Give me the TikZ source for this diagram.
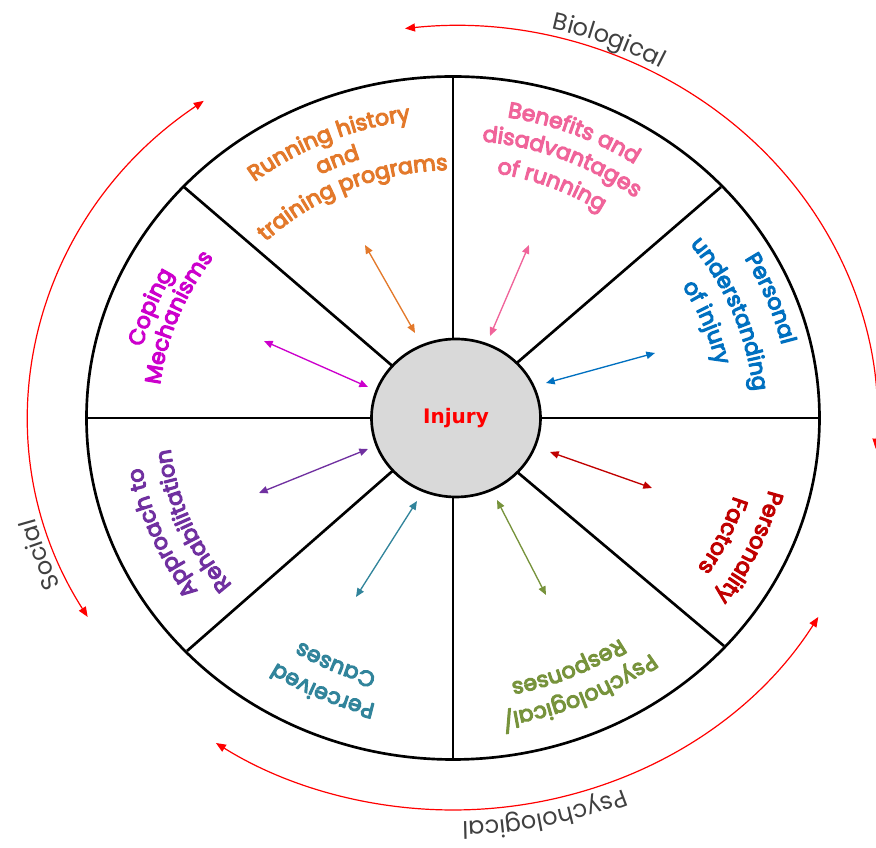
\documentclass[tikz,border=0pt]{standalone}
\usepackage{fontspec}
\setmainfont{Poppins}
\newfontfamily\dejavu{DejaVu Sans}
\newfontfamily\lblface{Poppins}[FakeBold=5]
\usetikzlibrary{arrows.meta,decorations.text,shapes.geometric}
\definecolor{cOrange}{HTML}{E3792B}
\definecolor{cPink}{HTML}{F0649A}
\definecolor{cBlue}{HTML}{0070C0}
\definecolor{cDarkRed}{HTML}{C00000}
\definecolor{cGreen}{HTML}{77933C}
\definecolor{cTeal}{HTML}{31849B}
\definecolor{cPurple}{HTML}{7030A0}
\definecolor{cMagenta}{HTML}{CC00CC}
\definecolor{cGray}{HTML}{404040}
\definecolor{cHub}{HTML}{D9D9D9}
\newcommand\lblfont{\lblface\fontsize{16.5}{19}\selectfont}
\newcommand\outfont{\fontsize{18}{21}\selectfont}
% #1 mid angle, #2 baseline radius, #3 colour, #4 font, #5 text
\newcommand\curvetext[5]{%
  \path[decorate,decoration={text along path,text align=center,text color=#3,text={|#4|#5}}]
    ({1.073*#2*cos(#1+55)},{#2*sin(#1+55)}) arc[start angle={#1+55},end angle={#1-55},x radius={1.073*#2},y radius={#2}];}
\tikzset{
  divider/.style={line width=2pt,black},
  ring/.style={line width=2pt,black},
  hub/.style={ellipse,draw=black,line width=2pt,fill=cHub,minimum width=126.75pt,minimum height=118.5pt,inner sep=0pt,
    text=red,font=\dejavu\bfseries\fontsize{15}{18}\selectfont},
  dbl/.style={line width=1pt,{Triangle[length=6.5pt,width=5.5pt]}-{Triangle[length=6.5pt,width=5.5pt]}},
  redarc/.style={red,line width=0.9pt,{Triangle[length=7.5pt,width=6pt]}-{Triangle[length=7.5pt,width=6pt]}}
}
\begin{document}
\begin{tikzpicture}[x=0.75pt,y=0.75pt,line join=round]
\useasboundingbox (-453,-430) rectangle (423,418);
% divider end points
\coordinate (dE) at (366,0);
\coordinate (dW) at (-366,0);
\coordinate (dN) at (0,341);
\coordinate (dS) at (0,-341);
\coordinate (dNE) at (268,231);
\coordinate (dNW) at (-269,231);
\coordinate (dSE) at (271,-228);
\coordinate (dSW) at (-266,-233);
\draw[divider] (dW) -- (dE);
\draw[divider] (dN) -- (dS);
\draw[divider] (dNE) -- (0,0) -- (dSW);
\draw[divider] (dNW) -- (0,0) -- (dSE);
\draw[ring] (0,0) ellipse[x radius=366.5,y radius=341.5];
\node[hub] (hub) at (3,0) {Injury};
% double arrows
\coordinate (oA) at (-88,173); \coordinate (oB) at (-38,85);
\coordinate (pA) at (76,173);  \coordinate (pB) at (37,82);
\coordinate (bA) at (202,65);  \coordinate (bB) at (93,35);
\coordinate (rA) at (97,-34);  \coordinate (rB) at (199,-70);
\coordinate (gA) at (44,-82);  \coordinate (gB) at (93,-177);
\coordinate (tA) at (-36,-83); \coordinate (tB) at (-97,-179);
\coordinate (uA) at (-85,-31); \coordinate (uB) at (-194,-75);
\coordinate (mA) at (-189,77); \coordinate (mB) at (-85,31);
\draw[dbl,cOrange] (oA) -- (oB);
\draw[dbl,cPink] (pA) -- (pB);
\draw[dbl,cBlue] (bA) -- (bB);
\draw[dbl,cDarkRed] (rA) -- (rB);
\draw[dbl,cGreen] (gA) -- (gB);
\draw[dbl,cTeal] (tA) -- (tB);
\draw[dbl,cPurple] (uA) -- (uB);
\draw[dbl,cMagenta] (mA) -- (mB);
% sector labels
\curvetext{113.7}{300}{cOrange}{\lblfont}{Running history}
\curvetext{113.7}{273}{cOrange}{\lblfont}{and}
\curvetext{113.7}{248}{cOrange}{\lblfont}{training programs}
\curvetext{67.5}{305}{cPink}{\lblfont}{Benefits and}
\curvetext{67.5}{278}{cPink}{\lblfont}{disadvantages}
\curvetext{67.5}{248}{cPink}{\lblfont}{of running}
\curvetext{21}{315}{cBlue}{\lblfont}{Personal}
\curvetext{21}{281}{cBlue}{\lblfont}{understanding}
\curvetext{21}{251}{cBlue}{\lblfont}{of injury}
\curvetext{-24}{303}{cDarkRed}{\lblfont}{Personality}
\curvetext{-24}{273}{cDarkRed}{\lblfont}{Factors}
\curvetext{-65.7}{299}{cGreen}{\lblfont}{Psychological/}
\curvetext{-65.7}{270}{cGreen}{\lblfont}{Responses}
\curvetext{-115}{295}{cTeal}{\lblfont}{Perceived}
\curvetext{-115}{265}{cTeal}{\lblfont}{Causes}
\curvetext{202}{294}{cPurple}{\lblfont}{Approach to}
\curvetext{202}{265}{cPurple}{\lblfont}{Rehabilitation}
\curvetext{159.5}{298}{cMagenta}{\lblfont}{Coping}
\curvetext{159.5}{275}{cMagenta}{\lblfont}{Mechanisms}
% outer arcs
\draw[redarc] ({424*cos(96.5)},{392*sin(96.5)}) arc[start angle=96.5,end angle=-4.5,x radius=424,y radius=392];
\draw[redarc] ({424*cos(126)},{392*sin(126)}) arc[start angle=126,end angle=210.5,x radius=424,y radius=392];
\draw[redarc] ({424*cos(-30.5)},{392*sin(-30.5)}) arc[start angle=-30.5,end angle=-124,x radius=424,y radius=392];
\curvetext{68}{400}{cGray}{\outfont}{Biological}
\curvetext{198.7}{402}{cGray}{\outfont}{Social}
\curvetext{-77.3}{404}{cGray}{\outfont}{Psychological}
\end{tikzpicture}
\end{document}
